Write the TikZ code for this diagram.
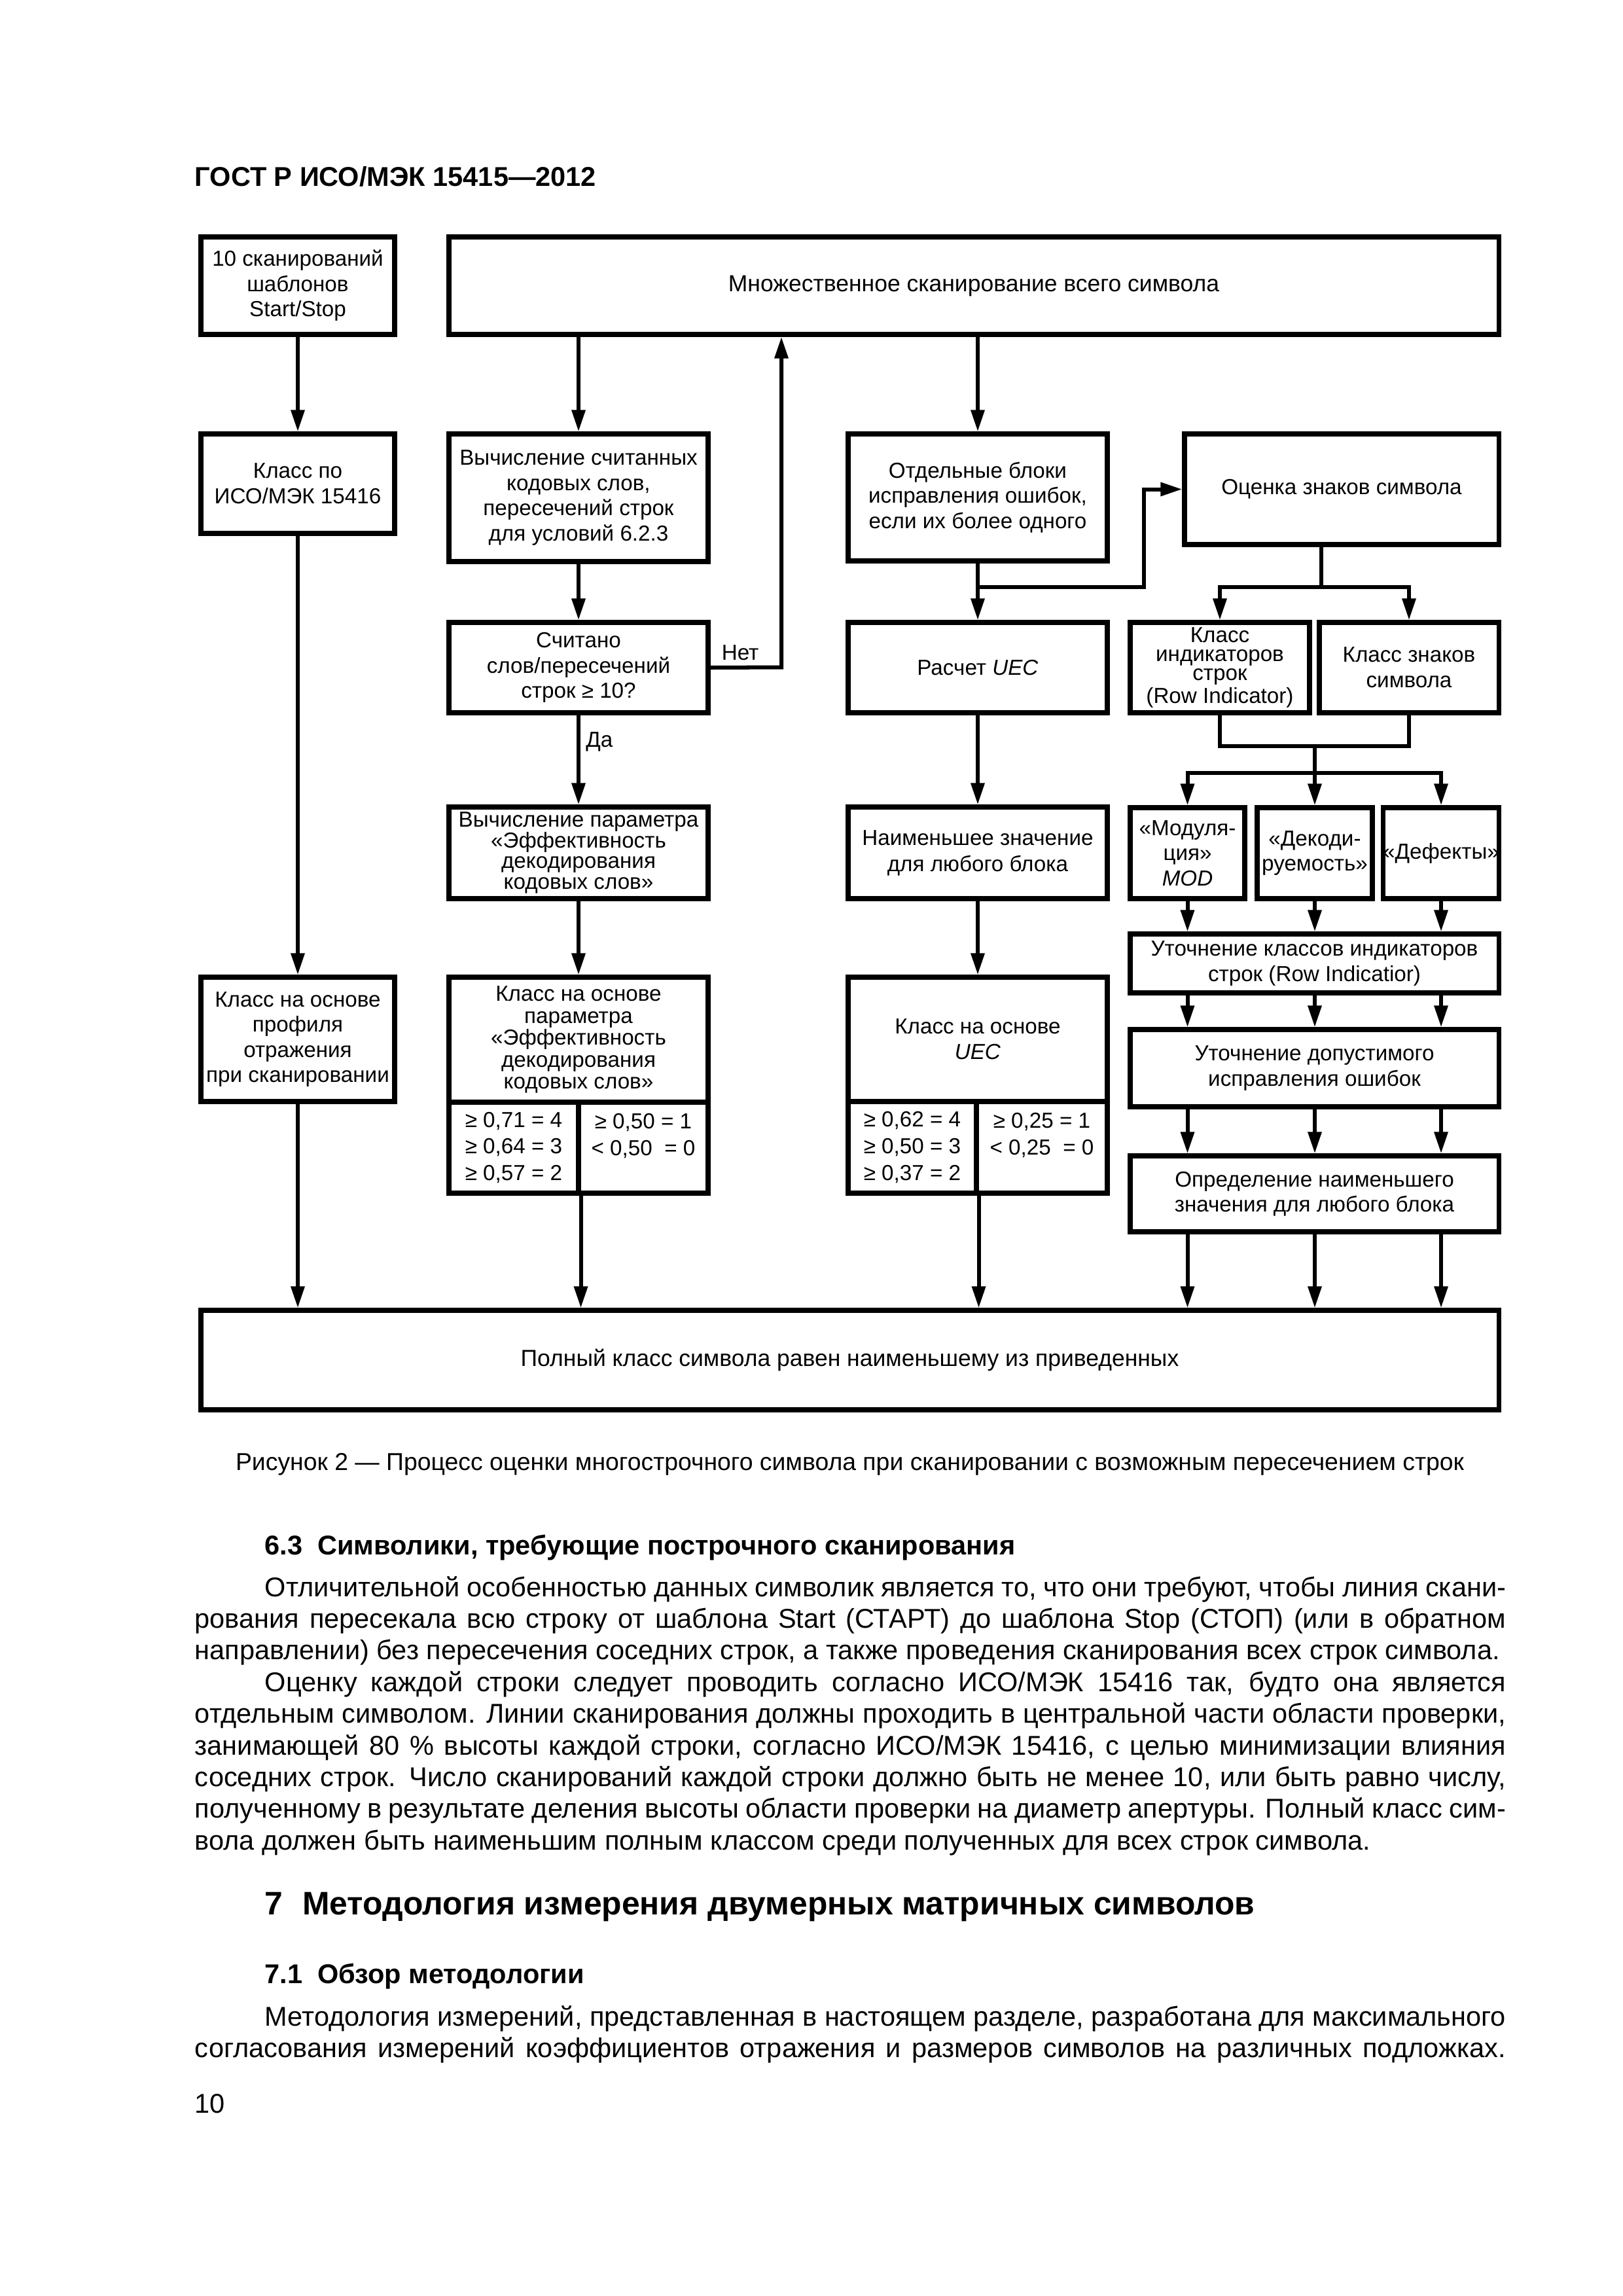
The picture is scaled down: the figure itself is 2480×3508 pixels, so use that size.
\documentclass[tikz,border=0pt]{standalone}
\usepackage{fontspec}
\setmainfont{Liberation Sans}
\usetikzlibrary{arrows.meta}
\def\pxu{0.0846774mm}
\newcommand\dfont{\fontsize{8.0}{9.3}\selectfont}
\newcommand\lead[1]{\fontsize{8.0}{#1}\selectfont}
\newcommand\bigdfont{\fontsize{8.55}{9.5}\selectfont}
\newcommand\bodyf{\fontsize{10}{11.6}\selectfont}
\newcommand\bx[7][]{\node[bx,minimum width={(#5-#3)*\pxu},minimum height={(#6-#4)*\pxu},#1] (#2) at ({(#3+#5)/2},{(#4+#6)/2}) {#7};}
\begin{document}
\begin{tikzpicture}[x=0.0846774mm,y=-0.0846774mm,
  bx/.style={draw,line width=1.7pt,inner sep=0pt,align=center,font=\dfont},
  arr/.style={line width=1.45pt,line join=miter,-{Triangle[length=2.8mm,width=1.7mm]}},
  ln/.style={line width=1.45pt,line join=miter},
  lbl/.style={font=\dfont,inner sep=2pt},
  txt/.style={anchor=base west,inner sep=0pt,font=\bodyf}]
\fill[white] (0,0) rectangle (2480,3508);
\useasboundingbox (0,0) rectangle (2480,3508);

% header
\node[txt,font=\fontsize{10}{12}\selectfont\bfseries] (hdr) at (297,284) {ГОСТ Р ИСО/МЭК 15415—2012};

% boxes
\bx{a}{307}{362}{603}{511}{10 сканирований\\шаблонов\\Start/Stop}
\bx[font=\bigdfont]{b}{686}{362}{2290}{511}{Множественное сканирование всего символа}
\bx{c}{307}{663}{603}{815}{Класс по\\ИСО/МЭК 15416}
\bx{d}{686}{663}{1082}{858}{Вычисление считанных\\кодовых слов,\\пересечений строк\\для условий 6.2.3}
\bx{e}{1296}{663}{1692}{857}{Отдельные блоки\\исправления ошибок,\\если их более одного}
\bx{f}{1810}{663}{2290}{832}{Оценка знаков символа}
\bx{g}{686}{951}{1082}{1089}{Считано\\слов/пересечений\\строк ≥ 10?}
\bx{h}{1296}{951}{1692}{1089}{Расчет \textit{UEC}}
\bx[font=\lead{7}]{i}{1727}{951}{2001}{1089}{Класс\\индикаторов\\строк\\(Row Indicator)}
\bx{j}{2016}{951}{2290}{1089}{Класс знаков\\символа}
\bx[font=\lead{7.6}]{k}{686}{1233}{1082}{1373}{Вычисление параметра\\«Эффективность\\декодирования\\кодовых слов»}
\bx[font=\lead{9.6}]{l}{1296}{1233}{1692}{1373}{Наименьшее значение\\для любого блока}
\bx{m}{1727}{1234}{1902}{1373}{«Модуля-\\ция»\\\textit{MOD}}
\bx{n}{1921}{1234}{2097}{1373}{«Декоди-\\руемость»}
\bx{o}{2114}{1234}{2290}{1373}{«Дефекты»}
\bx{p}{1727}{1427}{2290}{1517}{Уточнение классов индикаторов\\строк (Row Indicatior)}
\bx{q}{307}{1493}{603}{1683}{Класс на основе\\профиля\\отражения\\при сканировании}
\bx[font=\lead{8.1}]{rtop}{686}{1493}{1082}{1684}{Класс на основе\\параметра\\«Эффективность\\декодирования\\кодовых слов»}
\bx[font=\lead{9.8}]{rl}{686}{1684}{884}{1823}{≥ 0,71 = 4\\≥ 0,64 = 3\\≥ 0,57 = 2}
\bx[font=\lead{9.8}]{rr}{884}{1684}{1082}{1823}{≥ 0,50 = 1\\< 0,50~~= 0\\\mbox{}}
\bx{stop}{1296}{1493}{1692}{1683}{Класс на основе\\\textit{UEC}}
\bx[font=\lead{9.8}]{sl}{1296}{1683}{1492}{1823}{≥ 0,62 = 4\\≥ 0,50 = 3\\≥ 0,37 = 2}
\bx[font=\lead{9.8}]{sr}{1492}{1683}{1692}{1823}{≥ 0,25 = 1\\< 0,25~~= 0\\\mbox{}}
\bx{t}{1727}{1573}{2290}{1691}{Уточнение допустимого\\исправления ошибок}
\bx{u}{1727}{1766}{2290}{1882}{Определение наименьшего\\значения для любого блока}
\bx[font=\bigdfont]{v}{307}{2002}{2290}{2154}{Полный класс символа равен наименьшему из приведенных}

% connectors, column 1
\draw[arr] (a) -- (c);
\draw[arr] (c) -- (q);
\draw[arr] (q.south) -- (q.south |- v.north);
% column 2
\draw[arr] (b.south -| d.north) -- (d.north);
\draw[arr] (d) -- (g);
\draw[arr] (g) -- node[lbl,anchor=west,pos=0.3] (da) {Да} (k);
\coordinate (gret) at (1194,1019.5);
\draw[arr] (g.east) -- node[lbl,above,pos=0.42] (net) {Нет} (gret) -- (gret |- b.south);
\draw[arr] (k) -- (rtop);
\draw[arr] (rl.south east) -- (rl.south east |- v.north);
% column 3
\draw[arr] (b.south -| e.north) -- (e.north);
\draw[arr] (e) -- (h);
\coordinate (ej) at (1494,897);
\coordinate (ec) at (1748,897);
\draw[arr] (ej) -- (ec) -- (ec |- f.west) -- (f.west);
\draw[arr] (h) -- (l);
\draw[arr] (l) -- (stop);
\draw[arr] (sl.south east) -- (sl.south east |- v.north);
% right part
\coordinate (fj) at (2019,897);
\draw[ln] (fj |- f.south) -- (fj);
\draw[arr] (fj) -| (i.north);
\draw[arr] (fj) -| (j.north);
\coordinate (ij) at (2009,1140);
\coordinate (mj) at (2009,1181);
\draw[ln] (i.south) |- (ij) -| (j.south);
\draw[ln] (ij) -- (mj);
\draw[arr] (mj) -| (m.north);
\draw[arr] (mj) -- (mj |- n.north);
\draw[arr] (mj) -| (o.north);
\foreach \c in {m,n,o}{
  \draw[arr] (\c.south) -- (\c.south |- p.north);
  \draw[arr] (p.south -| \c.south) -- (t.north -| \c.south);
  \draw[arr] (t.south -| \c.south) -- (u.north -| \c.south);
  \draw[arr] (u.south -| \c.south) -- (v.north -| \c.south);
}

% caption
\node[anchor=base,inner sep=0pt,font=\fontsize{9}{11}\selectfont] (cap) at (1298.5,2246) {Рисунок 2 — Процесс оценки многострочного символа при сканировании с возможным пересечением строк};

% section 6.3
\node[txt,font=\bodyf\bfseries] (s63) at (404,2375) {6.3\hspace{0.55em}Символики, требующие построчного сканирования};
\node[txt] (p1a) at (404,2439) {\hbox to 160.55mm{Отличительной особенностью данных символик является то, что они требуют, чтобы линия скани-}};
\node[txt] (p1b) at (297,2487.4) {\hbox to 169.6mm{рования пересекала всю строку от шаблона Start (СТАРТ) до шаблона Stop (СТОП) (или в обратном}};
\node[txt] (p1c) at (297,2535.8) {направлении) без пересечения соседних строк, а также проведения сканирования всех строк символа.};
\node[txt] (p2a) at (404,2584.2) {\hbox to 160.55mm{Оценку каждой строки следует проводить согласно ИСО/МЭК 15416 так, будто она является}};
\node[txt] (p2b) at (297,2632.6) {\hbox to 169.6mm{отдельным символом. Линии сканирования должны проходить в центральной части области проверки,}};
\node[txt] (p2c) at (297,2681) {\hbox to 169.6mm{занимающей 80 \% высоты каждой строки, согласно ИСО/МЭК 15416, с целью минимизации влияния}};
\node[txt] (p2d) at (297,2729.4) {\hbox to 169.6mm{соседних строк. Число сканирований каждой строки должно быть не менее 10, или быть равно числу,}};
\node[txt] (p2e) at (297,2777.8) {\hbox to 169.6mm{полученному в результате деления высоты области проверки на диаметр апертуры. Полный класс сим-}};
\node[txt] (p2f) at (297,2826.2) {вола должен быть наименьшим полным классом среди полученных для всех строк символа.};

% section 7
\node[txt,font=\fontsize{12}{14}\selectfont\bfseries] (s7) at (404,2925) {7\hspace{0.6em}Методология измерения двумерных матричных символов};
\node[txt,font=\bodyf\bfseries] (s71) at (404,3030) {7.1\hspace{0.55em}Обзор методологии};
\node[txt] (p3a) at (404,3095) {\hbox to 160.55mm{Методология измерений, представленная в настоящем разделе, разработана для максимального}};
\node[txt] (p3b) at (297,3143.4) {\hbox to 169.6mm{согласования измерений коэффициентов отражения и размеров символов на различных подложках.}};

\node[txt] (pg) at (297,3228) {10};
\end{tikzpicture}
\end{document}
